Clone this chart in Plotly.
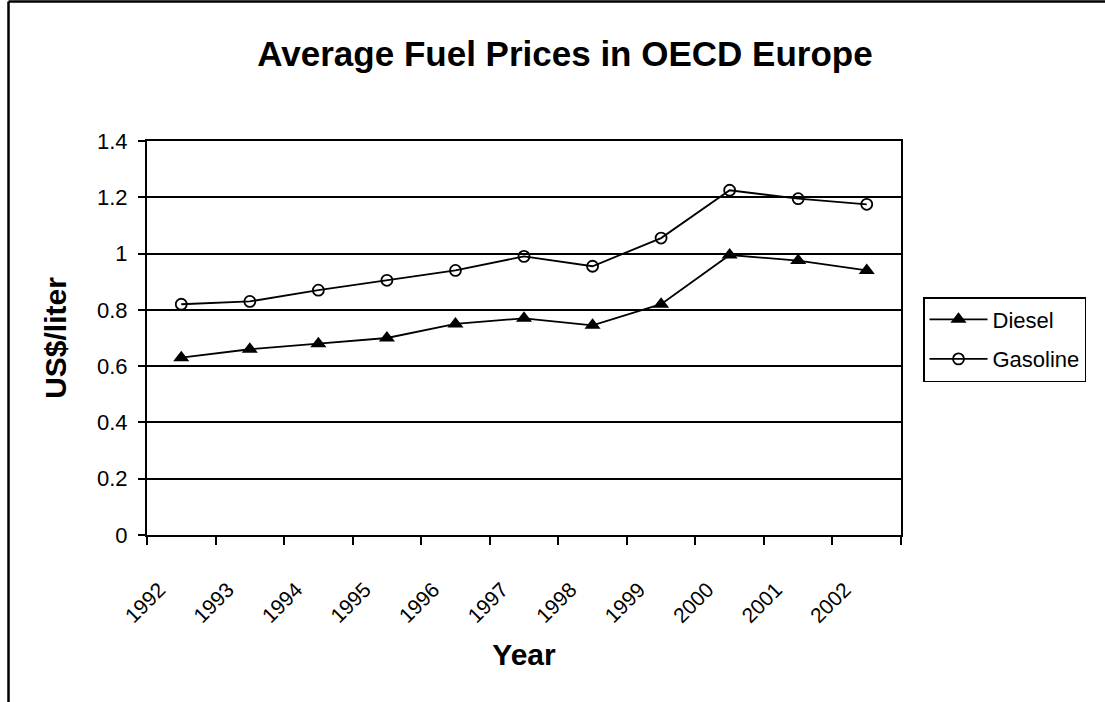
import plotly.graph_objects as go

years = ["1992", "1993", "1994", "1995", "1996", "1997", "1998", "1999", "2000", "2001", "2002"]
diesel = [0.63, 0.66, 0.68, 0.70, 0.75, 0.77, 0.745, 0.82, 0.995, 0.975, 0.94]
gasoline = [0.82, 0.83, 0.87, 0.905, 0.94, 0.99, 0.955, 1.055, 1.225, 1.195, 1.175]
y_ticks = [0, 0.2, 0.4, 0.6, 0.8, 1.0, 1.2, 1.4]
y_tick_text = ["0", "0.2", "0.4", "0.6", "0.8", "1", "1.2", "1.4"]

FONT = "Liberation Sans, Arial, sans-serif"

fig = go.Figure()
fig.add_trace(go.Scatter(
    x=years, y=diesel, name="Diesel", mode="lines+markers", legendgroup="d",
    line=dict(color="black", width=1.8),
    marker=dict(symbol="triangle-up", size=14, color="black"),
))
fig.add_trace(go.Scatter(
    x=years, y=gasoline, name="Gasoline", mode="lines+markers", legendgroup="g",
    line=dict(color="black", width=1.8),
    marker=dict(symbol="circle-open", size=11, color="black", line=dict(width=1.8)),
))

L, R, T, B = 147, 901, 141, 535
W, H = 1105, 702
pw, ph = R - L, B - T

def px_x(p):
    return (p - L) / pw

def px_y(p):
    return (B - p) / ph

fig.update_layout(
    width=W, height=H,
    margin=dict(l=L, r=W - R, t=T, b=H - B, pad=0),
    paper_bgcolor="white", plot_bgcolor="white",
    font=dict(family=FONT, color="black", size=22),
    title=dict(
        text="<b>Average Fuel Prices in OECD Europe</b>",
        font=dict(size=35, family=FONT, color="black"),
        x=565 / W, xanchor="center", xref="container",
        y=1 - 54 / H, yanchor="middle", yref="container",
    ),
    xaxis=dict(
        type="category", tickson="boundaries", range=[-0.5, len(years) - 0.5],
        showline=True, linecolor="black", linewidth=2, mirror=True,
        ticks="outside", ticklen=8, tickwidth=2, tickcolor="black",
        tickangle=-45, tickfont=dict(size=21),
        ticklabelshift=-22, ticklabelstandoff=32,
        showgrid=False,
        title=dict(text="<b>Year</b>", font=dict(size=30), standoff=18),
    ),
    yaxis=dict(
        range=[0, 1.4], tickvals=y_ticks, ticktext=y_tick_text,
        showline=True, linecolor="black", linewidth=2, mirror=True,
        ticks="outside", ticklen=7, tickwidth=2, tickcolor="black",
        tickfont=dict(size=22), ticklabelstandoff=6,
        showgrid=True, gridcolor="black", gridwidth=1.6,
        zeroline=False,
        title=dict(text="<b>US$/liter</b>", font=dict(size=30), standoff=22),
    ),
    legend=dict(
        x=px_x(923), y=px_y(297), xanchor="left", yanchor="top",
        bordercolor="black", borderwidth=1.5, bgcolor="white",
        font=dict(size=22), itemwidth=58, tracegroupgap=8,
    ),
    showlegend=True,
)

# outer chart border (top and left visible)
fig.add_shape(type="line", xref="paper", yref="paper",
              x0=px_x(8.5), x1=px_x(1110), y0=px_y(1.5), y1=px_y(1.5),
              line=dict(color="black", width=2.5))
fig.add_shape(type="line", xref="paper", yref="paper",
              x0=px_x(8.5), x1=px_x(8.5), y0=px_y(1.5), y1=px_y(710),
              line=dict(color="black", width=2.5))

fig.write_html("out.html", config={"displayModeBar": False},
               post_script="document.body.style.margin='0px';")
